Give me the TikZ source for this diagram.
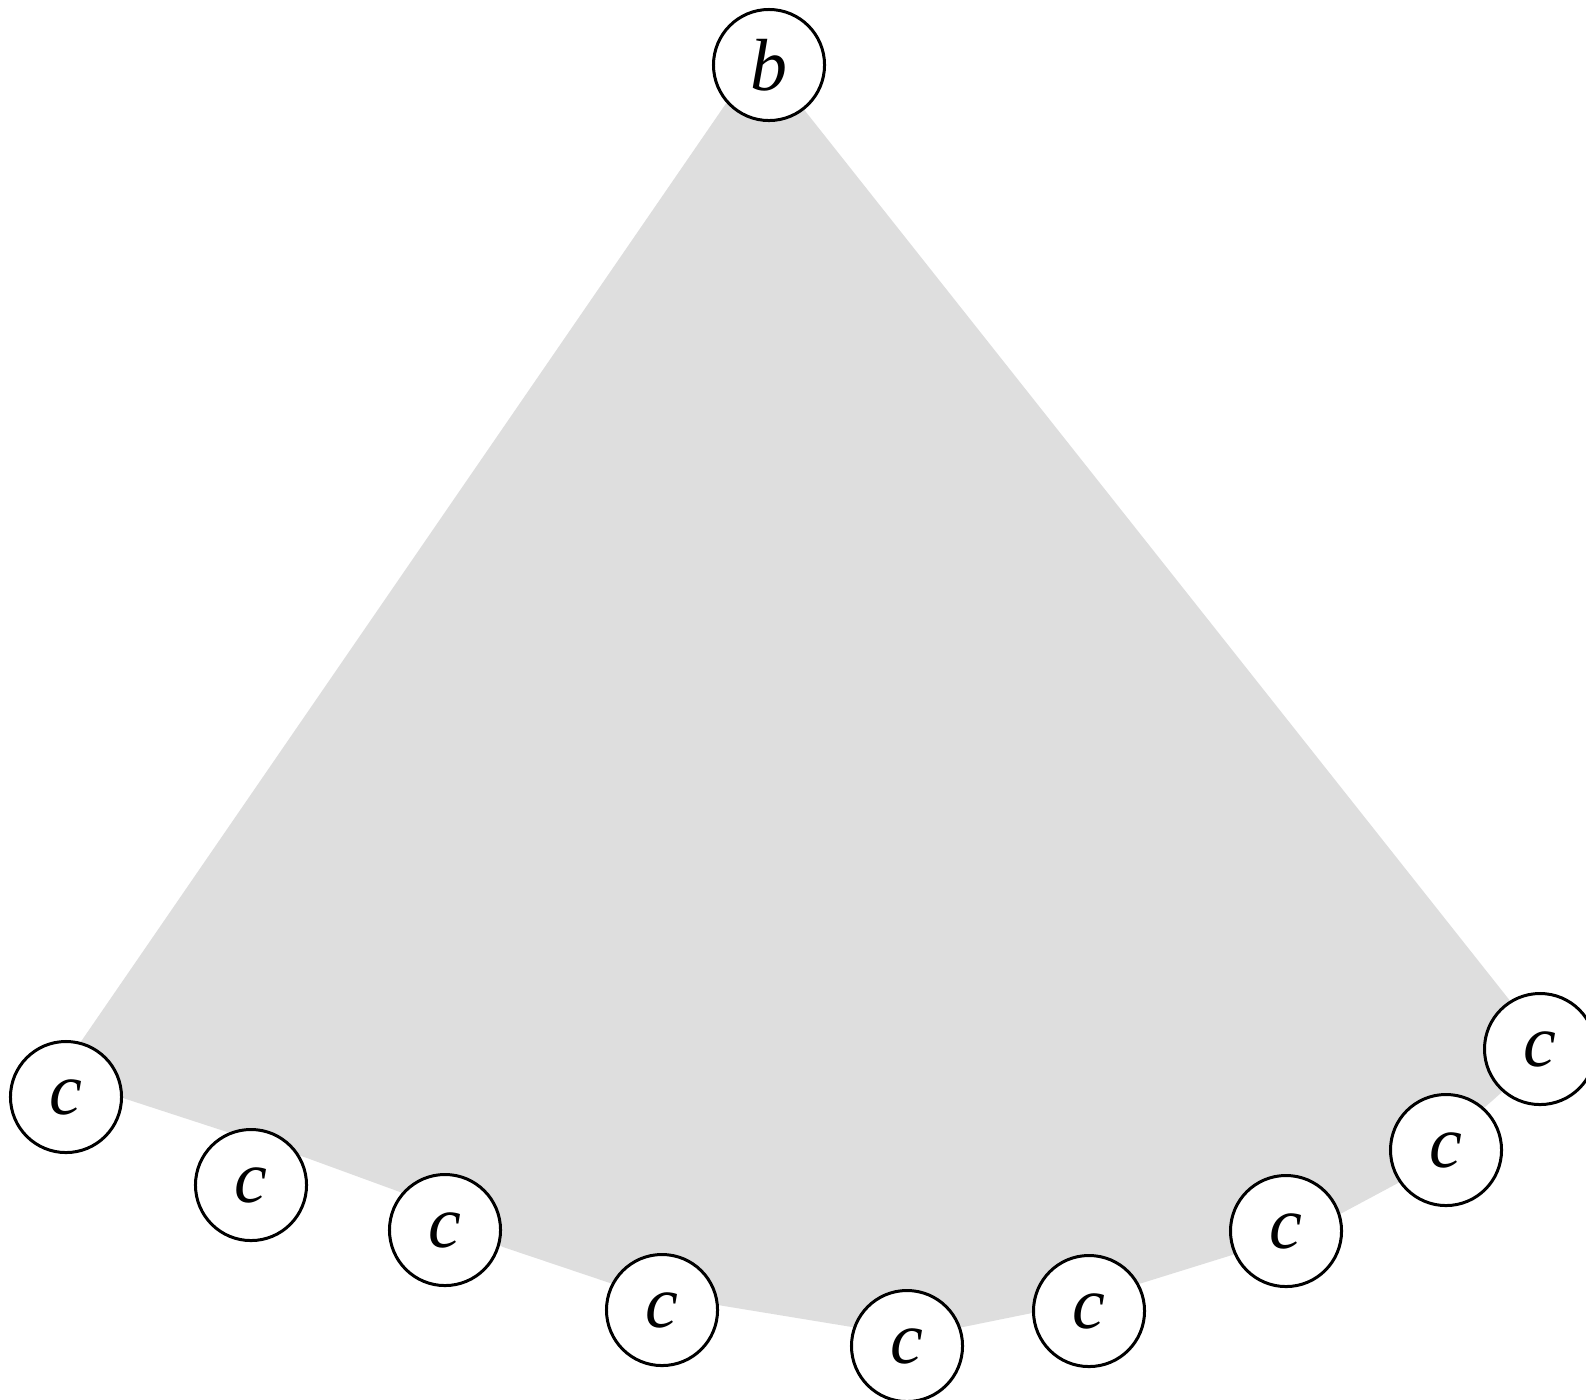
\documentclass[tikz,border=0pt]{standalone}
\usepackage{fontspec}
\setmainfont{Liberation Serif}
\usepackage{tikz}
\usetikzlibrary{positioning}
\definecolor{conegray}{HTML}{DEDEDE}

\begin{document}
\begin{tikzpicture}[
  x=0.01cm, y=-0.01cm,
  font=\fontsize{21}{25}\selectfont\itshape,
  vert/.style={circle, draw=black, fill=white, line width=0.03cm, minimum size=1.11cm, inner sep=0pt}
]
\useasboundingbox (0,0) rectangle (1586,1399);
% shaded region under the root
\fill[conegray] (760,54) -- (58,1075) -- (123,1098) -- (307,1158) -- (400,1192)
  -- (503,1247) -- (610,1283) -- (718,1305) -- (852,1327) -- (963,1327)
  -- (1032,1313) -- (1142,1283) -- (1232,1255) -- (1342,1213) -- (1398,1183)
  -- (1493,1100) -- (1549,1050) -- cycle;
\node[vert] (b) at (769,65) {b};
\foreach \x/\y [count=\i] in {66/1097, 251/1185, 445/1230, 662/1310, 907/1346,
    1089/1311, 1286/1231, 1446/1150, 1540/1049}
  \node[vert] (c\i) at (\x,\y) {c};
\end{tikzpicture}
\end{document}
